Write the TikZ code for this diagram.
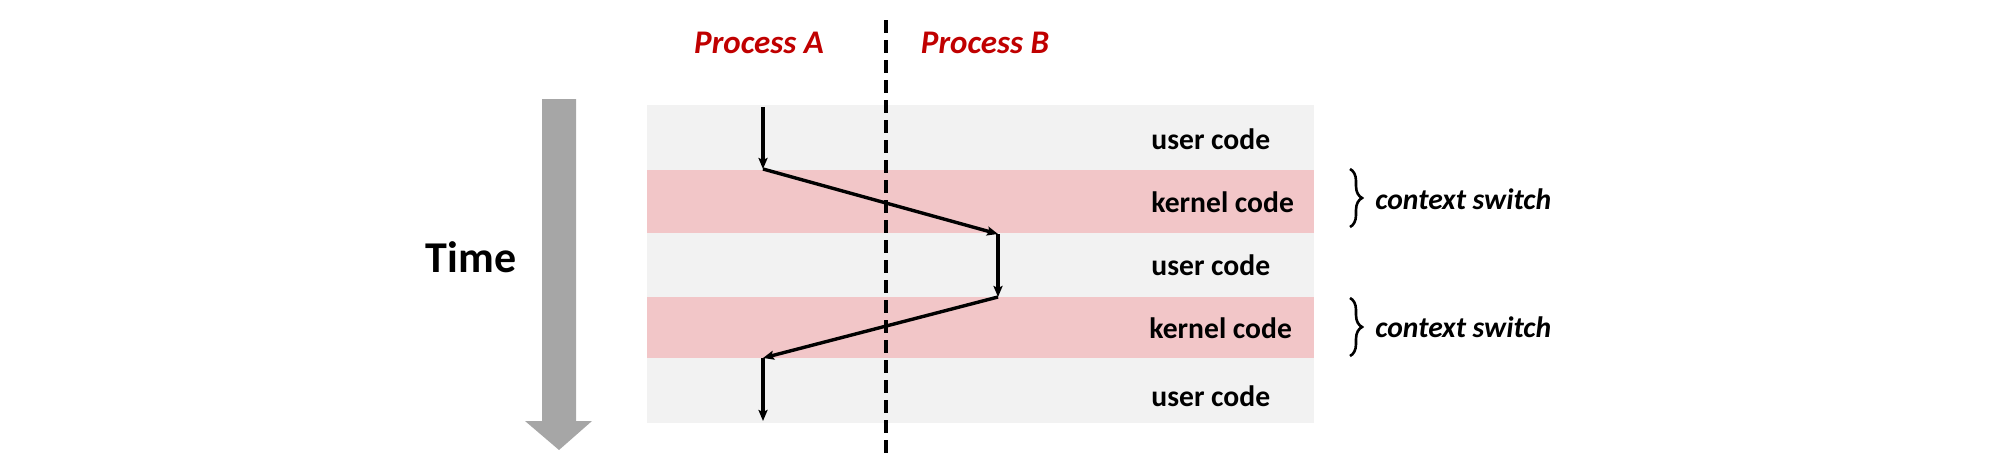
\documentclass[tikz,border=0pt]{standalone}
\usepackage{fontspec}
\setmainfont{Carlito}
\usetikzlibrary{arrows.meta,decorations.pathreplacing}
\definecolor{procred}{HTML}{C00000}
\definecolor{userbg}{HTML}{F2F2F2}
\definecolor{kernbg}{HTML}{F2C6C8}
\definecolor{timegray}{HTML}{A6A6A6}
\tikzset{
  userband/.style={fill=userbg, draw=none},
  kernband/.style={fill=kernbg, draw=none},
  codelbl/.style={anchor=west, inner sep=0pt, font=\fontsize{14.8}{16}\selectfont\bfseries},
  proclbl/.style={inner sep=0pt, text=procred, font=\fontsize{16.5}{18}\selectfont\bfseries\itshape},
  cslbl/.style={anchor=west, inner sep=0pt, font=\fontsize{14.8}{16}\selectfont\bfseries\itshape},
  timelbl/.style={inner sep=0pt, font=\fontsize{22}{24}\selectfont\bfseries},
  flow/.style={line width=1.7pt, -{Stealth[length=5.5pt,width=4.5pt,inset=1pt]}},
  divider/.style={line width=1.6pt, dash pattern=on 6.5pt off 3.5pt},
  csbrace/.style={line width=1.3pt, decorate, decoration={brace, amplitude=6pt}},
  timearrow/.style={fill=timegray, draw=none}
}
\begin{document}
\begin{tikzpicture}[x=0.5pt,y=-0.5pt]
\useasboundingbox (0,0) rectangle (2000,466);
% bands
\fill[userband] (647,105) rectangle (1314,170);
\fill[kernband] (647,170) rectangle (1314,233);
\fill[userband] (647,233) rectangle (1314,297);
\fill[kernband] (647,297) rectangle (1314,358);
\fill[userband] (647,358) rectangle (1314,423);
% labels in bands
\node[codelbl] (u1) at (1151,139) {user code};
\node[codelbl] (k1) at (1151,202) {kernel code};
\node[codelbl] (u2) at (1151,265) {user code};
\node[codelbl] (k2) at (1149,328) {kernel code};
\node[codelbl] (u3) at (1151,396) {user code};
% process headers
\node[proclbl] (pA) at (759,43) {Process A};
\node[proclbl] (pB) at (985,43) {Process B};
% divider
\coordinate (dtop) at (886,20);
\coordinate (dbot) at (886,453);
\draw[divider] (dtop) -- (dbot);
% execution flow
\coordinate (a0) at (763,107);
\coordinate (a1) at (763,169);
\coordinate (b1) at (998,234);
\coordinate (b2) at (998,297);
\coordinate (a2) at (763,358);
\coordinate (a3) at (763,421);
\draw[flow] (a0) -- (a1);
\draw[flow] (a1) -- (b1);
\draw[flow] (b1) -- (b2);
\draw[flow] (b2) -- (a2);
\draw[flow] (a2) -- (a3);
% braces
\coordinate (br1t) at (1350,169);
\coordinate (br1b) at (1350,227);
\coordinate (br2t) at (1350,298);
\coordinate (br2b) at (1350,356);
\draw[csbrace] (br1t) -- (br1b);
\draw[csbrace] (br2t) -- (br2b);
\node[cslbl] (cs1) at (1375,199) {context switch};
\node[cslbl] (cs2) at (1375,327) {context switch};
% time arrow
\fill[timearrow] (542,99) -- (576,99) -- (576,421) -- (592,421) -- (559,450) -- (525,421) -- (542,421) -- cycle;
\node[timelbl] (time) at (471,257) {Time};
\end{tikzpicture}
\end{document}
